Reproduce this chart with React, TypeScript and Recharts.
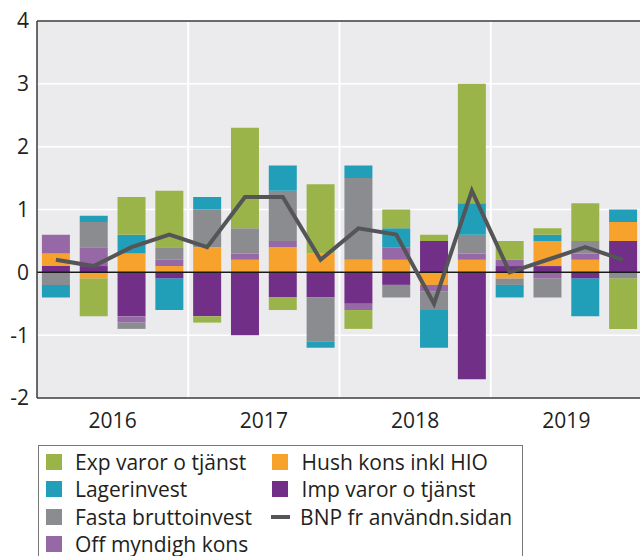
import {
  Bar,
  CartesianGrid,
  ComposedChart,
  Line,
  ReferenceLine,
  XAxis,
  YAxis,
} from 'recharts';

// Bidrag till BNP-tillväxt, procentenheter, kvartal 2016-2019
const quarters = [
  '2016K1', '2016K2', '2016K3', '2016K4',
  '2017K1', '2017K2', '2017K3', '2017K4',
  '2018K1', '2018K2', '2018K3', '2018K4',
  '2019K1', '2019K2', '2019K3', '2019K4',
];
// year label sits between K2 and K3, separators at K1 of each new year
const yearTicks = ['2016K2', '2017K2', '2018K2', '2019K2'];
const yearStarts = ['2017K1', '2018K1', '2019K1'];
const yTicks = [-2, -1, 0, 1, 2, 3, 4];

const imp = [0.1, 0.1, -0.7, -0.1, -0.7, -1.0, -0.4, -0.4, -0.5, -0.2, 0.5, -1.7, 0.1, 0.1, -0.1, 0.5];
const hush = [0.2, -0.1, 0.3, 0.1, 0.4, 0.2, 0.4, 0.3, 0.2, 0.2, -0.2, 0.2, -0.1, 0.4, 0.2, 0.3];
const off = [0.3, 0.3, -0.1, 0.1, 0, 0.1, 0.1, 0, -0.1, 0.2, -0.1, 0.1, 0.1, -0.1, 0.1, 0];
const fasta = [-0.2, 0.4, -0.1, 0.2, 0.6, 0.4, 0.8, -0.7, 1.3, -0.2, -0.3, 0.3, -0.1, -0.3, 0.2, -0.1];
const lager = [-0.2, 0.1, 0.3, -0.5, 0.2, 0, 0.4, -0.1, 0.2, 0.3, -0.6, 0.5, -0.2, 0.1, -0.6, 0.2];
const exp = [0, -0.6, 0.6, 0.9, -0.1, 1.6, -0.2, 1.1, -0.3, 0.3, 0.1, 1.9, 0.3, 0.1, 0.6, -0.8];
const bnp = [0.2, 0.1, 0.4, 0.6, 0.4, 1.2, 1.2, 0.2, 0.7, 0.6, -0.5, 1.3, 0.0, 0.2, 0.4, 0.2];

const FONT = '"Open Sans", sans-serif';
const TEXT = '#231f20';
const BNP_COLOR = '#555557';

// stack order from zero outwards
const series = [
  { key: 'imp', name: 'Imp varor o tjänst', color: '#722f87', values: imp },
  { key: 'hush', name: 'Hush kons inkl HIO', color: '#f6a22d', values: hush },
  { key: 'off', name: 'Off myndigh kons', color: '#9668a6', values: off },
  { key: 'fasta', name: 'Fasta bruttoinvest', color: '#8b8c90', values: fasta },
  { key: 'lager', name: 'Lagerinvest', color: '#219eb8', values: lager },
  { key: 'exp', name: 'Exp varor o tjänst', color: '#9bb44a', values: exp },
];

const chartData = quarters.map((q, i) => {
  const row: Record<string, string | number> = { q, bnp: bnp[i] };
  series.forEach((s) => {
    row[s.key] = s.values[i];
  });
  return row;
});

const legendCols = [
  ['exp', 'lager', 'fasta', 'off'],
  ['hush', 'imp', 'bnp'],
];

function YearTick(props: any) {
  const { x, y, payload } = props;
  const shift = payload?.offset ?? 0;
  return (
    <text
      x={x + shift}
      y={y}
      dy="0.71em"
      textAnchor="middle"
      fill={TEXT}
      fontSize={21}
      fontFamily={FONT}
    >
      {String(payload.value).slice(0, 4)}
    </text>
  );
}

function ChartLegend() {
  const colLeft = [6.7, 233.3];
  return (
    <div
      style={{
        position: 'absolute',
        left: 38,
        top: 445,
        width: 485,
        height: 130,
        border: '1px solid #777',
        boxSizing: 'border-box',
        fontFamily: FONT,
        fontSize: 21,
        color: TEXT,
      }}
    >
      {legendCols.map((col, ci) =>
        col.map((key, ri) => {
          const s = series.find((x) => x.key === key);
          return (
            <div
              key={key}
              style={{
                position: 'absolute',
                left: colLeft[ci],
                top: 3 + ri * 27.3,
                height: 26,
                display: 'flex',
                alignItems: 'center',
                whiteSpace: 'nowrap',
              }}
            >
              {s ? (
                <span style={{ width: 16, height: 16, background: s.color, marginRight: 13.3 }} />
              ) : (
                <span style={{ width: 19, height: 4, background: BNP_COLOR, marginRight: 10.3, marginLeft: -1.5 }} />
              )}
              <span>{s ? s.name : 'BNP fr användn.sidan'}</span>
            </div>
          );
        })
      )}
    </div>
  );
}

export default function App() {
  return (
    <div style={{ position: 'absolute', left: 0, top: 0, width: 640, height: 556, overflow: 'hidden', background: '#fff' }}>
      <ComposedChart
        width={643}
        height={556}
        data={chartData}
        stackOffset="sign"
        barCategoryGap="13%"
        margin={{ top: 21, right: 1, bottom: 128, left: 0 }}
      >
        <CartesianGrid
          vertical={false}
          stroke="#ffffff"
          strokeWidth={1.5}
          fill="#ebebee"
          fillOpacity={1}
        />
        <XAxis
          dataKey="q"
          ticks={yearTicks}
          interval={0}
          tick={<YearTick />}
          tickLine={false}
          tickMargin={9}
          axisLine={{ stroke: '#3a3a3a', strokeWidth: 1.5 }}
          height={30}
        />
        <YAxis
          domain={[-2, 4]}
          ticks={yTicks}
          width={37}
          tickLine={false}
          axisLine={{ stroke: '#3a3a3a', strokeWidth: 1.5 }}
          tick={{ fontSize: 21, fill: TEXT, fontFamily: FONT }}
          allowDataOverflow
        />
        {yearStarts.map((q) => (
          <ReferenceLine key={q} x={q} position="start" stroke="#ffffff" strokeWidth={2} />
        ))}
        {series.map((s) => (
          <Bar
            key={s.key}
            dataKey={s.key}
            name={s.name}
            stackId="a"
            fill={s.color}
            isAnimationActive={false}
          />
        ))}
        <ReferenceLine y={4} stroke="#3a3a3a" strokeWidth={1.5} />
        <ReferenceLine y={0} stroke="#1a1a1a" strokeWidth={1.5} />
        <Line
          dataKey="bnp"
          name="BNP fr användn.sidan"
          type="linear"
          stroke={BNP_COLOR}
          strokeWidth={4}
          dot={false}
          isAnimationActive={false}
        />
      </ComposedChart>
      <ChartLegend />
    </div>
  );
}
